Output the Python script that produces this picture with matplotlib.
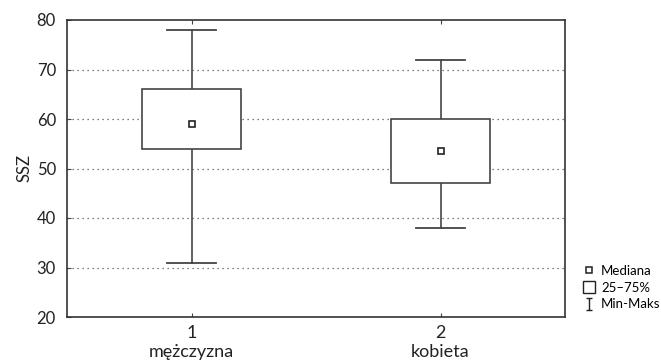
import matplotlib
matplotlib.use("Agg")
import matplotlib.pyplot as plt
from matplotlib.lines import Line2D
from matplotlib.patches import Rectangle
from matplotlib.path import Path

plt.rcParams['font.family'] = ['Lato', 'DejaVu Sans']

positions = [1, 2]
tick_labels = ["1\nmężczyzna", "2\nkobieta"]
medians = [59, 53.6]
q1 = [54, 47]
q3 = [66, 60]
mins = [31, 38]
maxs = [78, 72]
legend_labels = ["Mediana", "25–75%", "Min-Maks"]

fig = plt.figure(figsize=(6.61, 3.6), dpi=100)
ax = fig.add_axes([67/661, 43/360, (565-67)/661, (317-20)/360])

ax.set_xlim(0.5, 2.5)
ax.set_ylim(20, 80)
ax.set_yticks([20, 30, 40, 50, 60, 70, 80])
for y in [30, 40, 50, 60, 70]:
    ax.axhline(y, color='#555555', linestyle=(0, (1, 3)), linewidth=0.9, zorder=0)

bw = 0.4
cw = 0.2
lc = '#444444'
for x, md, lo, hi, mn, mx in zip(positions, medians, q1, q3, mins, maxs):
    ax.plot([x, x], [mn, lo], color='#555555', lw=1.3, zorder=2)
    ax.plot([x, x], [hi, mx], color='#555555', lw=1.3, zorder=2)
    ax.plot([x - cw/2, x + cw/2], [mn, mn], color=lc, lw=1.3, zorder=2)
    ax.plot([x - cw/2, x + cw/2], [mx, mx], color=lc, lw=1.3, zorder=2)
    ax.add_patch(Rectangle((x - bw/2, lo), bw, hi - lo, facecolor='white',
                           edgecolor=lc, lw=1.2, zorder=3))
    ax.plot([x], [md], marker='s', markersize=4.5, markerfacecolor='white',
            markeredgecolor='#222222', markeredgewidth=1.2, zorder=4)

ax.set_xticks(positions)
ax.set_xticklabels(tick_labels, fontsize=13, linespacing=1.2)
ax.tick_params(axis='both', direction='in', length=3, color='#444444',
               labelcolor='#222222', top=True, right=False)
ax.tick_params(axis='x', pad=6, labelsize=13)
ax.tick_params(axis='y', pad=8, labelsize=12)
for s in ax.spines.values():
    s.set_color('#333333')
    s.set_linewidth(1.2)
ax.set_ylabel("SSZ", fontsize=12, color='#222222', labelpad=3)

ibeam = Path([(-0.5, -1), (0.5, -1), (0, -1), (0, 1), (-0.5, 1), (0.5, 1)],
             [Path.MOVETO, Path.LINETO, Path.MOVETO, Path.LINETO, Path.MOVETO, Path.LINETO])
handles = [
    Line2D([], [], linestyle='none', marker='s', markersize=4.5, markerfacecolor='white',
           markeredgecolor='#222222', markeredgewidth=1.1),
    Line2D([], [], linestyle='none', marker='s', markersize=8, markerfacecolor='white',
           markeredgecolor='#222222', markeredgewidth=1.0),
    Line2D([], [], linestyle='none', marker=ibeam, markersize=9, markerfacecolor='none',
           markeredgecolor='#222222', markeredgewidth=1.0),
]
fig.legend(handles, legend_labels, loc='upper left', bbox_to_anchor=(584/661, 1 - 265/360),
           frameon=False, fontsize=9.5, handlelength=0.8, handletextpad=0.5,
           labelspacing=0.35, borderaxespad=0, borderpad=0)

fig.savefig("out.png", dpi=100)
